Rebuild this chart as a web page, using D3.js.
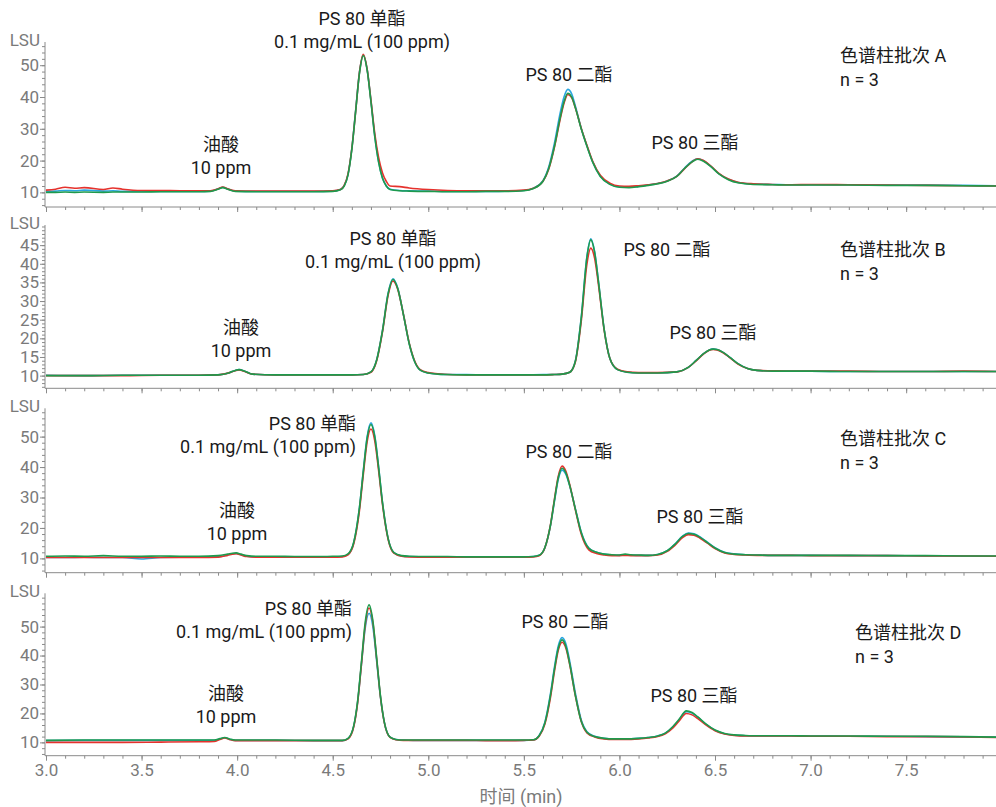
<!DOCTYPE html>
<html>
<head>
<meta charset="utf-8">
<title>PS 80 色谱图</title>
<script src="https://d3js.org/d3.v7.min.js"></script>
<style>
  body { margin: 0; background: #fff; }
  svg text { font-family: Roboto, "Noto Sans CJK SC", sans-serif; }
</style>
</head>
<body>
<div id="chart"></div>
<script>
// ---- data (min, LSU) ----
const timesA = [3.00,3.05,3.10,3.15,3.20,3.30,3.35,3.40,3.50,3.60,
  3.70,3.80,3.86,3.90,3.925,3.95,3.99,4.10,4.20,4.30,
  4.40,4.50,4.54,4.56,4.58,4.60,4.62,4.64,4.66,4.68,
  4.70,4.72,4.74,4.76,4.78,4.80,4.85,4.90,5.00,5.10,
  5.20,5.30,5.40,5.50,5.55,5.60,5.63,5.66,5.69,5.71,
  5.73,5.75,5.77,5.80,5.83,5.86,5.90,5.95,6.00,6.05,
  6.10,6.15,6.20,6.25,6.30,6.34,6.38,6.41,6.44,6.48,
  6.52,6.57,6.62,6.70,6.80,6.90,7.00,7.20,7.40,7.60,
  7.80,7.97];
const blueA = [10.3,10.4,10.6,10.5,10.7,10.4,10.5,10.3,10.3,10.3,
  10.3,10.3,10.4,11.1,11.6,11.1,10.4,10.3,10.3,10.3,
  10.3,10.4,10.9,12.1,15.6,23.8,35.8,47.8,53.2,48.8,
  38.8,27.8,19.7,14.6,12.1,11.0,10.6,10.5,10.4,10.3,
  10.3,10.3,10.4,10.6,11.3,13.7,18.0,25.5,35.0,40.0,
  42.4,41.0,37.0,30.2,24.6,19.6,15.1,12.6,11.7,11.6,
  11.9,12.3,12.8,13.6,15.1,17.6,19.8,20.6,20.0,18.1,
  15.9,14.1,13.1,12.6,12.5,12.4,12.4,12.4,12.3,12.3,
  12.2,12.1];
const redA = [10.7,11.0,11.6,11.3,11.5,10.9,11.4,11.0,10.6,10.6,
  10.5,10.5,10.5,11.1,11.7,11.1,10.5,10.4,10.4,10.4,
  10.4,10.5,10.9,12.2,15.8,23.8,35.5,47.8,53.4,48.8,
  39.0,28.5,21.0,16.2,13.5,12.0,11.8,11.4,10.9,10.6,
  10.5,10.5,10.5,10.7,11.3,13.5,17.3,24.2,33.0,38.0,
  40.8,39.8,36.5,30.2,24.8,19.8,15.4,12.9,12.0,11.9,
  12.1,12.4,12.8,13.6,15.0,17.4,19.6,20.6,20.0,18.2,
  16.0,14.2,13.2,12.7,12.5,12.4,12.5,12.4,12.3,12.2,
  12.1,12.0];
const greenA = [10.0,10.0,10.1,10.0,10.1,10.0,10.1,10.1,10.1,10.2,
  10.2,10.2,10.3,11.0,11.5,11.0,10.3,10.2,10.2,10.2,
  10.2,10.3,10.8,12.0,15.5,23.5,35.5,47.5,53.0,48.5,
  38.5,27.5,19.5,14.5,12.0,10.9,10.5,10.4,10.3,10.2,
  10.2,10.3,10.3,10.5,11.2,13.5,17.5,24.5,33.5,38.5,
  41.2,40.0,36.5,30.0,24.5,19.5,15.0,12.5,11.6,11.5,
  11.8,12.2,12.7,13.5,15.0,17.5,19.6,20.4,19.8,18.0,
  15.8,14.0,13.0,12.5,12.4,12.3,12.3,12.3,12.2,12.2,
  12.1,12.0];

const timesB = [3.00,3.20,3.40,3.60,3.80,3.90,3.96,3.99,4.01,4.04,
  4.08,4.20,4.40,4.60,4.66,4.70,4.73,4.76,4.79,4.815,
  4.84,4.87,4.90,4.93,4.96,5.00,5.05,5.10,5.20,5.30,
  5.40,5.50,5.60,5.66,5.70,5.74,5.77,5.80,5.83,5.85,
  5.87,5.89,5.92,5.95,5.99,6.04,6.10,6.20,6.30,6.36,
  6.40,6.44,6.47,6.49,6.51,6.54,6.58,6.62,6.67,6.72,
  6.80,6.90,7.00,7.20,7.40,7.60,7.80,7.97];
const blueB = [10.1,10.0,10.1,10.1,10.1,10.2,10.8,11.4,11.6,11.2,
  10.4,10.2,10.2,10.2,10.3,11.0,14.3,22.0,32.2,36.0,
  33.5,26.4,18.6,13.6,11.4,10.7,10.4,10.3,10.3,10.2,
  10.2,10.2,10.3,10.3,10.4,10.9,14.1,25.5,42.0,46.7,
  43.3,35.4,22.5,14.6,11.6,10.9,10.7,10.7,11.0,12.2,
  14.0,15.9,16.9,17.2,17.0,16.3,14.8,13.2,11.9,11.4,
  11.2,11.2,11.2,11.1,11.1,11.1,11.1,11.1];
const redB = [10.0,10.0,10.0,10.1,10.1,10.2,10.8,11.3,11.5,11.1,
  10.4,10.2,10.2,10.2,10.3,10.9,14.0,21.6,31.6,35.4,
  33.2,26.4,18.8,13.8,11.5,10.8,10.5,10.3,10.2,10.2,
  10.2,10.2,10.2,10.3,10.4,10.9,13.8,24.5,40.0,44.2,
  41.5,34.5,22.2,14.6,11.7,11.0,10.8,10.8,11.0,12.2,
  13.9,15.8,16.8,17.0,16.9,16.2,14.7,13.1,11.9,11.4,
  11.3,11.2,11.2,11.2,11.1,11.1,11.2,11.1];
const greenB = [10.0,10.0,10.1,10.1,10.1,10.2,10.8,11.4,11.6,11.2,
  10.4,10.2,10.2,10.2,10.3,11.0,14.2,21.9,32.0,35.8,
  33.4,26.3,18.6,13.6,11.4,10.7,10.4,10.3,10.2,10.2,
  10.2,10.2,10.2,10.3,10.4,10.9,14.0,25.3,41.8,46.4,
  43.1,35.3,22.4,14.6,11.6,10.9,10.7,10.7,11.0,12.2,
  14.0,15.9,16.9,17.1,17.0,16.3,14.8,13.2,11.9,11.4,
  11.2,11.2,11.2,11.1,11.1,11.1,11.1,11.1];

const timesC = [3.00,3.10,3.20,3.30,3.40,3.50,3.60,3.70,3.80,3.90,
  3.95,3.975,3.995,4.02,4.05,4.10,4.20,4.30,4.40,4.50,
  4.55,4.58,4.61,4.64,4.66,4.68,4.70,4.72,4.74,4.76,
  4.79,4.82,4.86,4.90,5.00,5.10,5.20,5.30,5.40,5.50,
  5.55,5.58,5.61,5.64,5.66,5.68,5.70,5.72,5.74,5.77,
  5.80,5.84,5.88,5.92,5.96,6.00,6.03,6.06,6.10,6.15,
  6.20,6.25,6.29,6.33,6.36,6.39,6.42,6.46,6.50,6.55,
  6.60,6.66,6.72,6.80,6.90,7.00,7.20,7.40,7.60,7.80,
  7.97];
const blueC = [10.3,10.3,10.4,10.3,10.3,9.8,10.3,10.4,10.4,10.5,
  11.1,11.5,11.6,11.2,10.7,10.5,10.5,10.5,10.5,10.5,
  10.6,11.3,15.2,26.8,38.8,49.9,54.5,50.3,40.1,28.6,
  16.5,11.9,10.8,10.6,10.5,10.5,10.5,10.4,10.5,10.5,
  10.6,11.0,13.5,21.0,28.7,36.0,39.0,37.6,33.8,26.2,
  18.7,13.4,12.0,11.4,11.1,11.0,11.2,11.1,11.0,11.0,
  11.3,12.5,14.7,17.3,18.3,18.1,17.1,15.3,13.5,12.0,
  11.5,11.2,11.1,11.0,11.0,11.0,10.9,10.9,10.8,10.8,
  10.7];
const redC = [10.3,10.3,10.3,10.3,10.3,10.3,10.3,10.3,10.3,10.4,
  11.0,11.4,11.5,11.1,10.6,10.4,10.4,10.4,10.4,10.4,
  10.5,11.2,14.8,25.8,37.5,48.3,52.5,48.6,38.9,27.9,
  16.2,11.7,10.7,10.5,10.4,10.4,10.4,10.4,10.4,10.4,
  10.5,10.9,13.5,21.3,29.5,37.0,40.3,38.6,34.2,25.8,
  18.0,12.8,11.6,11.1,10.9,10.9,11.0,10.9,10.9,10.9,
  11.1,12.3,14.3,16.8,17.8,17.6,16.7,15.0,13.2,11.8,
  11.3,11.1,11.0,11.0,11.0,10.9,10.9,10.9,10.8,10.8,
  10.7];
const greenC = [10.7,10.8,10.7,10.9,10.7,10.7,10.8,10.7,10.7,10.9,
  11.4,11.7,11.8,11.4,10.9,10.7,10.7,10.6,10.6,10.7,
  10.8,11.5,15.3,26.7,38.5,49.5,54.0,49.9,39.9,28.5,
  16.5,11.9,10.9,10.7,10.6,10.6,10.5,10.5,10.5,10.5,
  10.6,11.0,13.6,21.2,29.1,36.5,39.6,38.0,33.9,26.0,
  18.5,13.3,12.0,11.4,11.2,11.1,11.4,11.2,11.1,11.0,
  11.3,12.5,14.6,17.2,18.2,17.9,17.0,15.2,13.4,11.9,
  11.4,11.2,11.1,11.0,11.0,11.0,11.0,10.9,10.9,10.8,
  10.8];

const timesD = [3.00,3.20,3.40,3.60,3.80,3.88,3.91,3.935,3.96,3.99,
  4.05,4.20,4.40,4.50,4.55,4.58,4.61,4.63,4.65,4.67,
  4.69,4.71,4.73,4.75,4.77,4.80,4.83,4.87,4.92,5.00,
  5.10,5.20,5.30,5.40,5.50,5.55,5.58,5.61,5.64,5.66,
  5.68,5.70,5.72,5.74,5.77,5.80,5.83,5.87,5.92,5.97,
  6.03,6.10,6.15,6.20,6.24,6.28,6.31,6.35,6.38,6.41,
  6.45,6.50,6.55,6.60,6.66,6.72,6.80,6.90,7.00,7.20,
  7.40,7.60,7.80,7.97];
const blueD = [10.6,10.7,10.7,10.7,10.7,10.7,11.2,11.6,11.1,10.7,
  10.7,10.7,10.6,10.6,10.6,11.3,15.6,23.8,36.8,49.5,
  54.6,50.0,38.0,25.5,16.9,11.8,11.0,10.8,10.7,10.7,
  10.7,10.7,10.7,10.7,10.7,10.8,12.4,17.0,27.2,36.0,
  43.3,46.2,44.0,38.0,26.8,17.8,13.7,12.1,11.4,11.2,
  11.2,11.4,11.7,12.2,13.2,15.4,17.6,20.6,20.1,18.7,
  16.4,14.2,13.0,12.5,12.3,12.2,12.2,12.2,12.2,12.1,
  12.1,12.0,11.9,11.8];
const redD = [10.0,10.0,10.0,10.1,10.2,10.3,11.0,11.5,11.0,10.6,
  10.6,10.6,10.6,10.6,10.6,11.2,15.4,23.5,36.8,50.5,
  56.4,51.5,38.8,25.6,16.8,11.7,10.9,10.7,10.7,10.7,
  10.7,10.7,10.6,10.6,10.7,10.8,12.1,16.3,25.8,34.5,
  41.8,44.6,42.5,36.8,25.9,17.3,13.3,11.9,11.2,11.0,
  11.0,11.2,11.5,12.0,13.0,15.0,17.2,20.0,19.5,18.2,
  16.1,14.0,12.9,12.4,12.2,12.2,12.2,12.2,12.1,12.1,
  12.0,12.0,11.9,11.7];
const greenD = [10.7,10.8,10.8,10.8,10.8,10.8,11.3,11.7,11.2,10.8,
  10.8,10.8,10.7,10.7,10.7,11.4,15.8,24.1,37.6,51.5,
  57.5,52.0,39.1,25.9,17.0,11.8,11.0,10.8,10.8,10.8,
  10.8,10.8,10.8,10.8,10.8,10.9,12.3,16.7,26.6,35.3,
  42.5,45.4,43.1,37.1,26.0,17.3,13.5,12.0,11.4,11.2,
  11.2,11.4,11.7,12.2,13.2,15.5,17.8,20.9,20.3,18.8,
  16.5,14.3,13.1,12.6,12.4,12.3,12.3,12.3,12.2,12.2,
  12.1,12.1,12.0,11.8];

const xTickValues = [3.0,3.5,4.0,4.5,5.0,5.5,6.0,6.5,7.0,7.5];
const batchNames = ["色谱柱批次 A","色谱柱批次 B","色谱柱批次 C","色谱柱批次 D"];
const replicateLabel = "n = 3";
const peakNames = ["PS 80 单酯","PS 80 二酯","PS 80 三酯","油酸"];
const peakSubs = ["0.1 mg/mL (100 ppm)","10 ppm"];

// ---- layout ----
const W = 996, H = 807;
const colors = {blue: "#2aa6df", red: "#e5322d", green: "#1e9a4c"};
const axisGray = "#8a8a8a", labelGray = "#7a7a7a";
const annSize = 18, tickSize = 17;

const panels = [
  {t: timesA, blue: blueA, red: redA, green: greenA, top: 42, bottom: 207, ydom: [5.4, 57.3],
   major: [10,20,30,40,50], minorStep: 2,
   ann: {mono: [362, 19, "middle"], di: [569, 75], tri: [695, 143], ole: [221, 145], batch: [840, 56]}},
  {t: timesB, blue: blueB, red: redB, green: greenB, top: 225, bottom: 388.3, ydom: [6.6, 50.4],
   major: [10,15,20,25,30,35,40,45], minorStep: 1,
   ann: {mono: [393, 239, "middle"], di: [667, 250], tri: [713, 333], ole: [241, 328], batch: [840, 250]}},
  {t: timesC, blue: blueC, red: redC, green: greenC, top: 408.3, bottom: 572.7, ydom: [5.3, 59.3],
   major: [10,20,30,40,50], minorStep: 2,
   ann: {mono: [356, 424, "end"], di: [569, 452], tri: [700, 517], ole: [237, 511], batch: [840, 439]}},
  {t: timesD, blue: blueD, red: redD, green: greenD, top: 593.3, bottom: 755.7, ydom: [5.4, 61.5],
   major: [10,20,30,40,50], minorStep: 2,
   ann: {mono: [352, 609, "end"], di: [565, 622], tri: [694, 696], ole: [226, 694], batch: [855, 633]}}
];

const svg = d3.select("#chart").append("svg")
  .attr("width", W).attr("height", H);

const x = d3.scaleLinear().domain([3.0, 7.97]).range([46, 996]);
const xMinor = d3.range(3.0, 7.97, 0.1).map(v => Math.round(v * 10) / 10);

panels.forEach(function(p, i) {
  const y = d3.scaleLinear().domain(p.ydom).range([p.bottom, p.top]);
  const g = svg.append("g");

  // y axis: minor then major ticks
  const minorVals = d3.range(Math.ceil(p.ydom[0] / p.minorStep) * p.minorStep, p.ydom[1], p.minorStep);
  g.append("g").attr("transform", "translate(45,0)")
    .call(d3.axisLeft(y).tickValues(minorVals).tickSize(3).tickFormat(""))
    .call(a => a.select(".domain").remove());
  const ya = g.append("g").attr("transform", "translate(45,0)")
    .call(d3.axisLeft(y).tickValues(p.major).tickSize(5).tickPadding(1).tickFormat(d3.format("d")));
  ya.select(".domain").attr("d", "M0," + p.top + "V" + p.bottom);
  ya.selectAll("text").attr("font-size", tickSize).attr("fill", labelGray);

  g.append("text").attr("x", 40).attr("y", p.top + 4)
    .attr("text-anchor", "end").attr("font-size", tickSize).attr("fill", labelGray)
    .text("LSU");

  // bottom line with time ticks
  const xb = g.append("g").attr("transform", "translate(0," + p.bottom + ")");
  xb.call(d3.axisBottom(x).tickValues(xMinor).tickSize(3).tickFormat(""));
  xb.select(".domain").attr("d", "M45,0H996");
  const xm = g.append("g").attr("transform", "translate(0," + p.bottom + ")")
    .call(d3.axisBottom(x).tickValues(xTickValues).tickSize(5).tickPadding(3)
      .tickFormat(i === 3 ? d3.format(".1f") : ""));
  xm.select(".domain").remove();
  xm.selectAll("text").attr("font-size", tickSize).attr("fill", labelGray);
  g.selectAll(".tick line").attr("stroke", axisGray);
  g.selectAll(".domain").attr("stroke", axisGray);

  // traces
  ["blue", "red", "green"].forEach(function(c) {
    const vals = p[c];
    const n = Math.min(vals.length, p.t.length);
    const line = d3.line()
      .x(k => x(p.t[k]))
      .y(k => y(vals[k]))
      .curve(d3.curveMonotoneX);
    g.append("path")
      .attr("d", line(d3.range(n)))
      .attr("fill", "none")
      .attr("stroke", colors[c])
      .attr("stroke-width", 1.6)
      .attr("stroke-linejoin", "round");
  });

  // annotations
  const a = p.ann;
  const lab = (xx, yy, txt, anchor) => g.append("text")
    .attr("x", xx).attr("y", yy).attr("dy", "0.35em")
    .attr("text-anchor", anchor || "middle")
    .attr("font-size", annSize).attr("fill", "#1a1a1a").text(txt);
  lab(a.mono[0], a.mono[1], peakNames[0], a.mono[2]);
  lab(a.mono[0], a.mono[1] + 23, peakSubs[0], a.mono[2]);
  lab(a.di[0], a.di[1], peakNames[1]);
  lab(a.tri[0], a.tri[1], peakNames[2]);
  lab(a.ole[0], a.ole[1], peakNames[3]);
  lab(a.ole[0], a.ole[1] + 23, peakSubs[1]);
  lab(a.batch[0], a.batch[1], batchNames[i], "start");
  lab(a.batch[0], a.batch[1] + 24, replicateLabel, "start");
});

svg.append("text")
  .attr("x", 521).attr("y", 797).attr("dy", "0.35em")
  .attr("text-anchor", "middle").attr("font-size", annSize).attr("fill", labelGray)
  .text("时间 (min)");
</script>
</body>
</html>
